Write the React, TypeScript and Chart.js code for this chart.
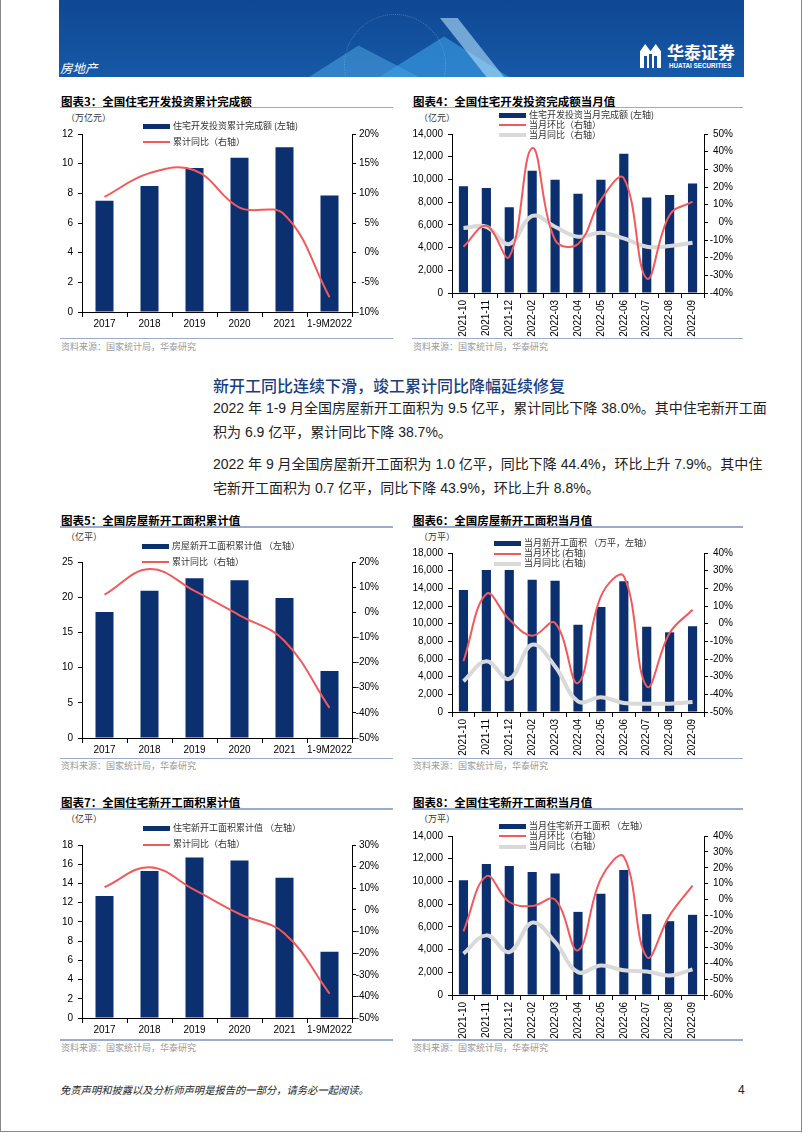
import React, { useEffect, useRef } from "react";
import { Chart, registerables } from "chart.js";
Chart.register(...registerables);

// ---------- data ----------
const YEARS = ["2017", "2018", "2019", "2020", "2021", "1-9M2022"];
const MONTHS = ["2021-10", "2021-11", "2021-12", "2022-02", "2022-03", "2022-04", "2022-05", "2022-06", "2022-07", "2022-08", "2022-09"];

// 图表3
const invCum = [7.5, 8.5, 9.7, 10.4, 11.1, 7.85];
const invCumYoy = [9.4, 13.4, 13.9, 7.6, 6.4, -7.5];
// 图表4
const invMon = [9400, 9250, 7560, 10760, 9970, 8740, 9970, 12260, 8410, 8620, 9650];
const invMonMom = [-13.8, -2.0, -19.5, 42.0, -10.0, -12.3, 12.7, 25.0, -31.8, 4.2, 11.7];
const invMonYoy = [-3.2, -2.5, -12.3, 3.6, -2.5, -8.1, -5.9, -9.1, -13.8, -13.4, -11.5];
// 图表5
const newCum = [17.9, 20.9, 22.7, 22.4, 19.9, 9.5];
const newCumYoy = [7.0, 17.2, 8.5, -1.2, -11.4, -38.0];
// 图表6
const newMon = [13800, 16080, 16080, 14980, 14870, 9890, 11890, 14790, 9660, 9020, 9700];
const newMonMom = [-21.3, 16.8, 2.3, -6.8, 0.4, -33.6, 15.5, 26.8, -35.5, -5.3, 7.9];
const newMonYoy = [-32.6, -21.3, -31.3, -11.9, -24.2, -44.0, -41.7, -44.9, -45.3, -45.3, -44.4];
// 图表7
const resCum = [12.7, 15.3, 16.7, 16.4, 14.6, 6.9];
const resCumYoy = [10.5, 19.7, 9.2, -1.9, -10.9, -38.7];
// 图表8
const resMon = [10100, 11530, 11350, 10820, 10700, 7320, 8910, 11000, 7120, 6500, 7060];
const resMonMom = [-20.0, 14.7, -1.5, -4.0, 0.0, -31.9, 13.2, 26.9, -36.1, -9.9, 8.8];
const resMonYoy = [-34.0, -22.5, -33.0, -14.5, -26.7, -45.6, -41.4, -44.5, -45.2, -47.7, -43.9];

// ---------- styles ----------
const NAVY = "#0b2f6f";
const RED = "#f05a5c";
const GRAY = "#d9d9d9";
const LINEC = "#9aaccb";
const CJK = '"Noto Sans CJK SC", sans-serif';
const LAT = '"Liberation Sans", Arial, sans-serif';
const MIX = '"Liberation Sans Narrow", "Liberation Sans", "Noto Sans CJK SC", sans-serif';

type LineSpec = { data: number[]; color: string; width: number; order: number };
type Spec = {
  left: number; top: number; w: number; h: number;
  padTop: number; yW: number; y1W: number; xH: number;
  labels: string[]; bars: number[]; lines: LineSpec[];
  yMin: number; yMax: number; yStep: number;
  y1Min: number; y1Max: number; y1Step: number;
  comma: boolean; rotate: boolean;
};

function buildConfig(s: Spec): any {
  const datasets: any[] = [
    {
      type: "bar", data: s.bars, backgroundColor: NAVY, barPercentage: 0.4,
      categoryPercentage: 1, yAxisID: "y", order: 5,
    },
  ];
  s.lines.forEach((l) =>
    datasets.push({
      type: "line", data: l.data, borderColor: l.color, borderWidth: l.width,
      pointRadius: 0, tension: 0.4, yAxisID: "y1", order: l.order, fill: false,
    })
  );
  const tickFont = { family: LAT, size: 10 };
  return {
    type: "bar",
    data: { labels: s.labels, datasets },
    options: {
      responsive: false,
      animation: false,
      layout: { padding: { top: s.padTop, left: 0, right: 0, bottom: 0 } },
      plugins: { legend: { display: false }, tooltip: { enabled: false } },
      scales: {
        x: {
          offset: true,
          grid: { offset: true, display: true, drawOnChartArea: false, drawTicks: true, tickLength: 5, color: "#000" },
          border: { display: true, color: "#000", width: 1 },
          ticks: {
            autoSkip: false,
            maxRotation: s.rotate ? 90 : 0,
            minRotation: s.rotate ? 90 : 0,
            padding: s.rotate ? 2 : 1,
            color: "#000",
            font: { family: LAT, size: 10 },
          },
          afterFit: (sc: any) => { sc.height = s.xH; },
        },
        y: {
          position: "left",
          min: s.yMin, max: s.yMax,
          grid: { drawOnChartArea: false, drawTicks: true, tickLength: 4, color: "#000" },
          border: { display: true, color: "#000", width: 1 },
          ticks: {
            stepSize: s.yStep, padding: 5, color: "#000", font: tickFont,
            callback: (v: any) => (s.comma ? Number(v).toLocaleString("en-US") : String(v)),
          },
          afterFit: (sc: any) => { sc.width = s.yW; },
        },
        y1: {
          position: "right",
          min: s.y1Min, max: s.y1Max,
          grid: { drawOnChartArea: false, drawTicks: true, tickLength: 4, color: "#000" },
          border: { display: true, color: "#000", width: 1 },
          ticks: {
            stepSize: s.y1Step, padding: 2, color: "#000", font: tickFont, crossAlign: "far",
            callback: (v: any) => `${v}%`,
          },
          afterFit: (sc: any) => { sc.width = s.y1W; },
        },
      },
    },
  };
}

function ChartBox({ spec }: { spec: Spec }) {
  const ref = useRef<HTMLCanvasElement>(null);
  useEffect(() => {
    const c = new Chart(ref.current as HTMLCanvasElement, buildConfig(spec));
    return () => c.destroy();
  }, []);
  return (
    <canvas
      ref={ref}
      width={spec.w}
      height={spec.h}
      style={{ position: "absolute", left: spec.left, top: spec.top, width: spec.w, height: spec.h }}
    />
  );
}

function T(props: {
  x: number; y: number; size: number; children: any; color?: string; weight?: number | string;
  family?: string; italic?: boolean; width?: number; justify?: boolean;
}) {
  const { x, y, size, children, color = "#000", weight = 400, family = CJK, italic, width, justify } = props;
  return (
    <div
      style={{
        position: "absolute", left: x, top: y - size * 0.7, fontSize: size, lineHeight: `${size * 1.4}px`,
        color, fontWeight: weight as any, fontFamily: family, whiteSpace: "nowrap",
        fontStyle: italic ? "italic" : "normal",
        width: width, textAlign: justify ? "justify" : "left",
        textAlignLast: justify ? "justify" : "auto",
      } as any}
    >
      {children}
    </div>
  );
}

function HLine({ x1, x2, y, color = LINEC, h = 1.5 }: { x1: number; x2: number; y: number; color?: string; h?: number }) {
  return <div style={{ position: "absolute", left: x1, top: y - h / 2, width: x2 - x1, height: h, background: color }} />;
}

function Swatch({ x, y, kind }: { x: number; y: number; kind: "bar" | "red" | "gray" }) {
  const h = kind === "bar" ? 5 : kind === "red" ? 2 : 4;
  const c = kind === "bar" ? NAVY : kind === "red" ? RED : GRAY;
  return <div style={{ position: "absolute", left: x, top: y - h / 2, width: 27, height: h, background: c }} />;
}

function Legend({ x, ys, items }: { x: number; ys: number[]; items: { kind: "bar" | "red" | "gray"; text: string }[] }) {
  return (
    <>
      {items.map((it, i) => (
        <React.Fragment key={i}>
          <Swatch x={x} y={ys[i]} kind={it.kind} />
          <T x={x + 30} y={ys[i]} size={9} color="#333">{it.text}</T>
        </React.Fragment>
      ))}
    </>
  );
}

function Frame({ col, titleY, ulY, srcLineY, srcY, title, unit, unitY }: {
  col: 0 | 1; titleY: number; ulY: number; srcLineY: number; srcY: number; title: string; unit: string; unitY: number;
}) {
  const x1 = col === 0 ? 60 : 412;
  const x2 = col === 0 ? 393 : 743;
  return (
    <>
      <T x={x1 + 1} y={titleY} size={11.5} weight={700}>{title}</T>
      <HLine x1={x1} x2={x2} y={ulY} />
      <T x={col === 0 ? 66 : 419} y={unitY} size={9} color="#333">{unit}</T>
      <HLine x1={x1} x2={x2} y={srcLineY} />
      <T x={x1 + 1} y={srcY} size={9} color="#9a9a9a">资料来源：国家统计局，华泰研究</T>
    </>
  );
}

const specs: Spec[] = [
  {
    left: 40, top: 120, w: 339, h: 215, padTop: 14, yW: 42, y1W: 27, xH: 23,
    labels: YEARS, bars: invCum, lines: [{ data: invCumYoy, color: RED, width: 2, order: 1 }],
    yMin: 0, yMax: 12, yStep: 2, y1Min: -10, y1Max: 20, y1Step: 5, comma: false, rotate: false,
  },
  {
    left: 400, top: 120, w: 333, h: 220, padTop: 14, yW: 52, y1W: 29, xH: 47,
    labels: MONTHS, bars: invMon,
    lines: [{ data: invMonYoy, color: GRAY, width: 4, order: 2 }, { data: invMonMom, color: RED, width: 2, order: 1 }],
    yMin: 0, yMax: 14000, yStep: 2000, y1Min: -40, y1Max: 50, y1Step: 10, comma: true, rotate: true,
  },
  {
    left: 40, top: 548, w: 339, h: 210, padTop: 14, yW: 42, y1W: 27, xH: 20,
    labels: YEARS, bars: newCum, lines: [{ data: newCumYoy, color: RED, width: 2, order: 1 }],
    yMin: 0, yMax: 25, yStep: 5, y1Min: -50, y1Max: 20, y1Step: 10, comma: false, rotate: false,
  },
  {
    left: 400, top: 539, w: 333, h: 219, padTop: 14, yW: 52, y1W: 29, xH: 46,
    labels: MONTHS, bars: newMon,
    lines: [{ data: newMonYoy, color: GRAY, width: 4, order: 2 }, { data: newMonMom, color: RED, width: 2, order: 1 }],
    yMin: 0, yMax: 18000, yStep: 2000, y1Min: -50, y1Max: 40, y1Step: 10, comma: true, rotate: true,
  },
  {
    left: 40, top: 831, w: 339, h: 209, padTop: 14, yW: 42, y1W: 27, xH: 22,
    labels: YEARS, bars: resCum, lines: [{ data: resCumYoy, color: RED, width: 2, order: 1 }],
    yMin: 0, yMax: 18, yStep: 2, y1Min: -50, y1Max: 30, y1Step: 10, comma: false, rotate: false,
  },
  {
    left: 400, top: 822, w: 333, h: 218, padTop: 14, yW: 52, y1W: 29, xH: 45,
    labels: MONTHS, bars: resMon,
    lines: [{ data: resMonYoy, color: GRAY, width: 4, order: 2 }, { data: resMonMom, color: RED, width: 2, order: 1 }],
    yMin: 0, yMax: 14000, yStep: 2000, y1Min: -60, y1Max: 40, y1Step: 10, comma: true, rotate: true,
  },
];

function Banner() {
  return (
    <div style={{ position: "absolute", left: 59, top: 0, width: 685, height: 77, overflow: "hidden", background: "linear-gradient(180deg, #0f4894 0%, #13529f 60%, #1659a8 100%)" }}>
      <div style={{ position: "absolute", left: 250, top: 40, width: 110, height: 37, background: "rgba(80,170,230,0.5)", clipPath: "polygon(0 100%, 45% 15%, 100% 100%)" }} />
      <div style={{ position: "absolute", left: 320, top: 32, width: 130, height: 45, background: "rgba(60,160,230,0.6)", clipPath: "polygon(0 100%, 50% 10%, 100% 100%)" }} />
      <div style={{ position: "absolute", left: 365, top: 18, width: 80, height: 59, background: "rgba(180,225,250,0.6)", clipPath: "polygon(20% 0, 42% 0, 100% 100%, 78% 100%)" }} />
      <div style={{ position: "absolute", left: 285, top: 14, width: 100, height: 100, borderRadius: "50%", border: "1px dotted rgba(160,210,250,0.35)" }} />
      <T x={1} y={68} size={12.5} color="#fff" italic>房地产</T>
      <div style={{ position: "absolute", left: 581, top: 44, width: 21, height: 24, background: "#fff", clipPath: "polygon(0 30%, 25% 0, 50% 30%, 75% 0, 100% 30%, 100% 100%, 0 100%)" }}>
        <div style={{ position: "absolute", left: 4, top: 12, width: 3, height: 12, background: "#13529f" }} />
        <div style={{ position: "absolute", left: 9, top: 10, width: 3, height: 14, background: "#13529f" }} />
        <div style={{ position: "absolute", left: 14, top: 12, width: 3, height: 12, background: "#13529f" }} />
      </div>
      <T x={608} y={52} size={17} color="#fff" weight={700}>华泰证券</T>
      <T x={610} y={66.5} size={6.3} color="#fff" weight={700} family={LAT}>HUATAI SECURITIES</T>
    </div>
  );
}

export default function App() {
  return (
    <div style={{ position: "absolute", left: 0, top: 0, width: 802, height: 1133, background: "#fff", overflow: "hidden" }}>
      <div style={{ position: "absolute", left: 0, top: 0, width: 802, height: 1132, boxSizing: "border-box", borderLeft: "1px solid #888", borderRight: "1px solid #888", borderBottom: "1px solid #888" }} />
      <Banner />

      {/* Row 1 */}
      <Frame col={0} titleY={101.5} ulY={107.5} srcLineY={338.5} srcY={347} title="图表3：全国住宅开发投资累计完成额" unit="（万亿元）" unitY={118.5} />
      <Frame col={1} titleY={101.5} ulY={107.5} srcLineY={338.5} srcY={347} title="图表4：全国住宅开发投资完成额当月值" unit="（亿元）" unitY={118.5} />
      {/* Row 2 */}
      <Frame col={0} titleY={520} ulY={527} srcLineY={758.5} srcY={766} title="图表5：全国房屋新开工面积累计值" unit="（亿平）" unitY={537} />
      <Frame col={1} titleY={520} ulY={527} srcLineY={758.5} srcY={766} title="图表6：全国房屋新开工面积当月值" unit="（万平）" unitY={537} />
      {/* Row 3 */}
      <Frame col={0} titleY={802.5} ulY={809} srcLineY={1040} srcY={1048.5} title="图表7：全国住宅新开工面积累计值" unit="（亿平）" unitY={819.5} />
      <Frame col={1} titleY={802.5} ulY={809} srcLineY={1040} srcY={1048.5} title="图表8：全国住宅新开工面积当月值" unit="（万平）" unitY={819.5} />

      {specs.map((s, i) => <ChartBox key={i} spec={s} />)}

      <Legend x={143} ys={[126.5, 142]} items={[{ kind: "bar", text: "住宅开发投资累计完成额 (左轴)" }, { kind: "red", text: "累计同比（右轴）" }]} />
      <Legend x={499} ys={[115, 125, 135]} items={[{ kind: "bar", text: "住宅开发投资当月完成额 (左轴)" }, { kind: "red", text: "当月环比（右轴）" }, { kind: "gray", text: "当月同比（右轴）" }]} />
      <Legend x={142} ys={[546, 562]} items={[{ kind: "bar", text: "房屋新开工面积累计值 （左轴）" }, { kind: "red", text: "累计同比（右轴）" }]} />
      <Legend x={494} ys={[543.5, 553.5, 563.5]} items={[{ kind: "bar", text: "当月新开工面积 （万平，左轴）" }, { kind: "red", text: "当月环比 (右轴)" }, { kind: "gray", text: "当月同比 (右轴)" }]} />
      <Legend x={143} ys={[828.5, 844.5]} items={[{ kind: "bar", text: "住宅新开工面积累计值 （左轴）" }, { kind: "red", text: "累计同比（右轴）" }]} />
      <Legend x={499} ys={[826, 836, 846.5]} items={[{ kind: "bar", text: "当月住宅新开工面积 （左轴）" }, { kind: "red", text: "当月环比（右轴）" }, { kind: "gray", text: "当月同比（右轴）" }]} />

      {/* Text section */}
      <T x={213} y={385} size={16} color="#1b3f7d" weight={500}>新开工同比连续下滑，竣工累计同比降幅延续修复</T>
      <T x={213} y={409} size={14} color="#222" family={MIX} width={535} justify>2022 年 1-9 月全国房屋新开工面积为 9.5 亿平，累计同比下降 38.0%。其中住宅新开工面</T>
      <T x={213} y={433} size={14} color="#222" family={MIX}>积为 6.9 亿平，累计同比下降 38.7%。</T>
      <T x={213} y={465} size={14} color="#222" family={MIX} width={535} justify>2022 年 9 月全国房屋新开工面积为 1.0 亿平，同比下降 44.4%，环比上升 7.9%。其中住</T>
      <T x={213} y={489} size={14} color="#222" family={MIX}>宅新开工面积为 0.7 亿平，同比下降 43.9%，环比上升 8.8%。</T>

      {/* Footer */}
      <T x={60} y={1090} size={10.3} color="#222" italic>免责声明和披露以及分析师声明是报告的一部分，请务必一起阅读。</T>
      <T x={738} y={1090} size={12} color="#222" family={MIX}>4</T>
    </div>
  );
}
